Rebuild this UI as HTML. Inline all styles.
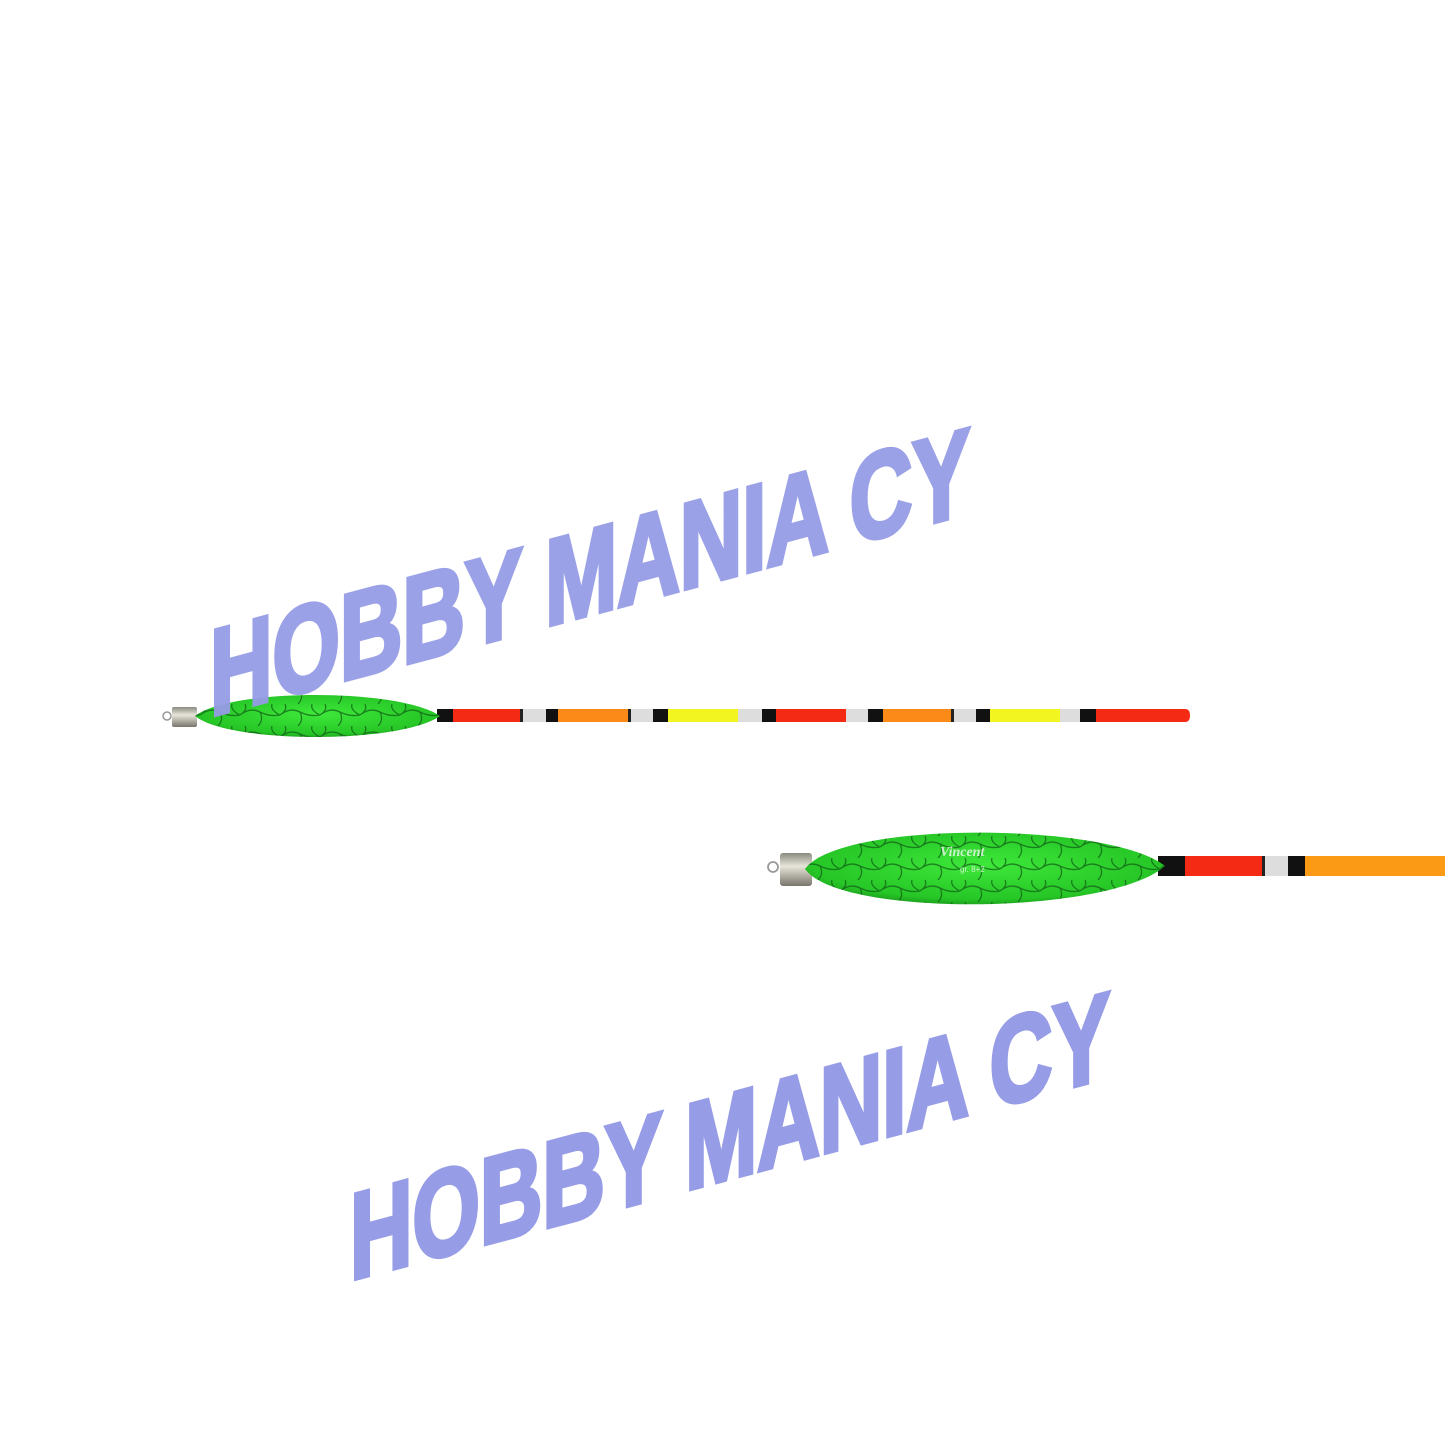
<!DOCTYPE html>
<html><head><meta charset="utf-8"><style>
html,body{margin:0;padding:0;background:#fff;}
svg{display:block}
</style></head><body>
<svg width="1445" height="1445" viewBox="0 0 1445 1445" xmlns="http://www.w3.org/2000/svg">
<defs>
<linearGradient id="metal" x1="0" y1="0" x2="0" y2="1">
<stop offset="0" stop-color="#8a8a80"/><stop offset="0.4" stop-color="#e8e6da"/><stop offset="1" stop-color="#77756c"/>
</linearGradient>
<radialGradient id="green" cx="0.5" cy="0.45" r="0.6">
<stop offset="0" stop-color="#3ee83a"/><stop offset="0.8" stop-color="#26c626"/><stop offset="1" stop-color="#1b8f1b"/>
</radialGradient>
<pattern id="crack" width="40" height="22" patternUnits="userSpaceOnUse">
<path d="M0 11 Q10 3 20 8 T40 11 M20 8 Q24 16 18 22 M5 0 Q8 6 0 11 M32 0 Q30 6 40 11" stroke="#0f5a16" stroke-width="1.3" fill="none" opacity="0.7"/>
</pattern>
</defs>
<rect width="1445" height="1445" fill="#fff"/>

<g>
<circle cx="167" cy="716" r="4" fill="none" stroke="#999" stroke-width="1.5"/>
<rect x="172" y="707" width="25" height="20" rx="2" fill="url(#metal)"/>
<rect x="437" y="709" width="16" height="13" fill="#111"/>
<rect x="453" y="709" width="67" height="13" fill="#f52a14"/>
<rect x="520" y="709" width="3" height="13" fill="#222"/>
<rect x="523" y="709" width="23" height="13" fill="#ddd"/>
<rect x="546" y="709" width="12" height="13" fill="#111"/>
<rect x="558" y="709" width="70" height="13" fill="#fb8a18"/>
<rect x="628" y="709" width="3" height="13" fill="#222"/>
<rect x="631" y="709" width="22" height="13" fill="#ddd"/>
<rect x="653" y="709" width="15" height="13" fill="#111"/>
<rect x="668" y="709" width="70" height="13" fill="#f2f520"/>
<rect x="738" y="709" width="24" height="13" fill="#ddd"/>
<rect x="762" y="709" width="14" height="13" fill="#111"/>
<rect x="776" y="709" width="70" height="13" fill="#f52a14"/>
<rect x="846" y="709" width="22" height="13" fill="#ddd"/>
<rect x="868" y="709" width="15" height="13" fill="#111"/>
<rect x="883" y="709" width="68" height="13" fill="#fb8a18"/>
<rect x="951" y="709" width="3" height="13" fill="#222"/>
<rect x="954" y="709" width="22" height="13" fill="#ddd"/>
<rect x="976" y="709" width="14" height="13" fill="#111"/>
<rect x="990" y="709" width="70" height="13" fill="#f2f520"/>
<rect x="1060" y="709" width="20" height="13" fill="#ddd"/>
<rect x="1080" y="709" width="16" height="13" fill="#111"/>
<path d="M1096 709 H1185 Q1190 709 1190 715.5 Q1190 722 1185 722 H1096 Z" fill="#f52a14"/>
<path d="M195 716 C230 688 400 688 440 716 C400 744 230 744 195 716 Z" fill="url(#green)"/>
<path d="M195 716 C230 688 400 688 440 716 C400 744 230 744 195 716 Z" fill="url(#crack)"/>
</g>

<g>
<circle cx="773" cy="867" r="5" fill="none" stroke="#999" stroke-width="1.8"/>
<rect x="780" y="853" width="32" height="33" rx="3" fill="url(#metal)"/>
<rect x="1158" y="856" width="27" height="20" fill="#111"/>
<rect x="1185" y="856" width="77" height="20" fill="#f52a14"/>
<rect x="1262" y="856" width="3" height="20" fill="#222"/>
<rect x="1265" y="856" width="23" height="20" fill="#ddd"/>
<rect x="1288" y="856" width="17" height="20" fill="#111"/>
<rect x="1305" y="856" width="140" height="20" fill="#fb9a14"/>
<path d="M805 869 C840 820 1110 822 1165 866 C1110 915 840 918 805 869 Z" fill="url(#green)"/>
<path d="M805 869 C840 820 1110 822 1165 866 C1110 915 840 918 805 869 Z" fill="url(#crack)"/>
<text x="940" y="856" font-family="Liberation Serif, serif" font-style="italic" font-weight="bold" font-size="14" fill="#e8f5e8" opacity="0.85">Vincent</text>
<text x="960" y="872" font-family="Liberation Sans, sans-serif" font-size="8" fill="#e8f5e8" opacity="0.85">gr. 8+2</text>
</g>

<g transform="translate(210,716) skewY(-15)" opacity="0.95">
<text x="0" y="0" font-family="Liberation Sans, sans-serif" font-weight="bold" font-size="122" fill="#969ce6" stroke="#969ce6" stroke-width="5" stroke-linejoin="miter" textLength="760" lengthAdjust="spacingAndGlyphs">HOBBY MANIA CY</text>
</g>
<g transform="translate(350,1280) skewY(-15)">
<text x="0" y="0" font-family="Liberation Sans, sans-serif" font-weight="bold" font-size="122" fill="#969ce6" stroke="#969ce6" stroke-width="5" stroke-linejoin="miter" textLength="760" lengthAdjust="spacingAndGlyphs">HOBBY MANIA CY</text>
</g>
</svg>
</body></html>
